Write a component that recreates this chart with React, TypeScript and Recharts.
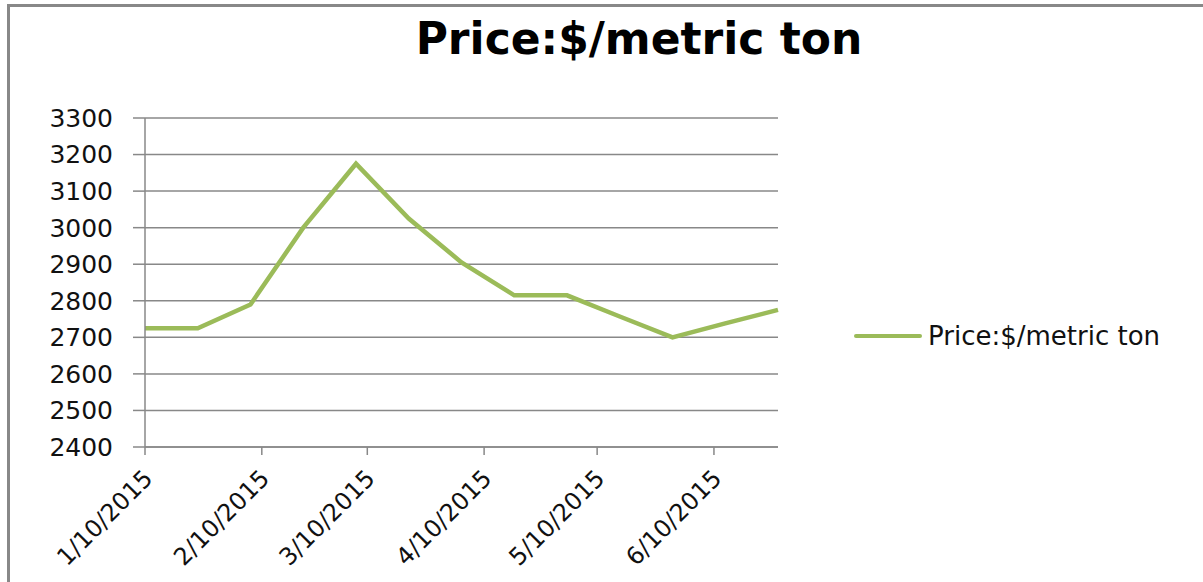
import React from 'react'
import { LineChart, Line, XAxis, YAxis, CartesianGrid, Legend } from 'recharts'

const dates = [
    '2015-01-10', '2015-01-24', '2015-02-07', '2015-02-21', '2015-03-07',
    '2015-03-21', '2015-04-04', '2015-04-18', '2015-05-02', '2015-05-16',
    '2015-05-30', '2015-06-13', '2015-06-27',
]
const prices = [2725, 2725, 2790, 3000, 3175, 3025, 2905, 2815, 2815, 2757, 2700, 2738, 2775]

const tickDates = ['2015-01-10', '2015-02-10', '2015-03-10', '2015-04-10', '2015-05-10', '2015-06-10']
const tickLabels = ['1/10/2015', '2/10/2015', '3/10/2015', '4/10/2015', '5/10/2015', '6/10/2015']
const yTicks = [2400, 2500, 2600, 2700, 2800, 2900, 3000, 3100, 3200, 3300]

const seriesName = 'Price:$/metric ton'

const DAY = 24 * 3600 * 1000
const start = Date.parse(dates[0])
const toDay = (d: string) => Math.round((Date.parse(d) - start) / DAY)

const data = dates.map((d, i) => ({ day: toDay(d), price: prices[i] }))
const xTicks = tickDates.map(toDay)

const FONT = '"DejaVu Sans", sans-serif'
const GREEN = '#9bbb59'
const GRAY = '#888888'

function DateTick(props: any) {
    const { x, y, payload } = props
    const i = xTicks.indexOf(payload.value)
    const ax = x + 9
    const ay = y + 25
    return (
        <text
            x={ax}
            y={ay}
            transform={`rotate(-45 ${ax} ${ay})`}
            textAnchor="end"
            fontFamily={FONT}
            fontSize={24}
            fill="#111"
        >
            {i >= 0 ? tickLabels[i] : ''}
        </text>
    )
}

function LegendBox() {
    return (
        <div style={{ display: 'flex', alignItems: 'center', fontFamily: FONT, fontSize: 26, color: '#111' }}>
            <span style={{ display: 'inline-block', width: 68, height: 4, background: GREEN, borderRadius: 2, marginRight: 6 }} />
            <span>{seriesName}</span>
        </div>
    )
}

export default function App() {
    return (
        <div style={{ position: 'absolute', left: 0, top: 0, width: 1203, height: 582, background: '#fff', overflow: 'hidden' }}>
            {/* chart area frame, only top/left edges visible */}
            <div style={{ position: 'absolute', left: 7, top: 4, width: 1300, height: 700, borderLeft: `3px solid ${GRAY}`, borderTop: `3px solid ${GRAY}` }} />

            <div style={{ position: 'absolute', left: 0, top: 13, width: 1278, textAlign: 'center', fontFamily: FONT, fontWeight: 'bold', fontSize: 44, color: '#000' }}>
                {seriesName}
            </div>

            <div style={{ position: 'absolute', left: 0, top: 0 }}>
                <LineChart width={1203} height={582} data={data} margin={{ top: 118, right: 425, bottom: 0, left: 0 }}>
                    <CartesianGrid vertical={false} stroke={GRAY} strokeWidth={1.5} />
                    <XAxis
                        dataKey="day"
                        type="number"
                        domain={[0, data[data.length - 1].day]}
                        ticks={xTicks}
                        interval={0}
                        height={135}
                        tickSize={8}
                        tickMargin={0}
                        stroke={GRAY}
                        strokeWidth={1.5}
                        tick={<DateTick />}
                    />
                    <YAxis
                        domain={[2400, 3300]}
                        ticks={yTicks}
                        interval={0}
                        width={145}
                        tickSize={12}
                        tickMargin={20}
                        stroke={GRAY}
                        strokeWidth={1.5}
                        tick={{ fontFamily: FONT, fontSize: 25, fill: '#111' }}
                    />
                    <Legend
                        layout="vertical"
                        align="center"
                        verticalAlign="middle"
                        content={<LegendBox />}
                        wrapperStyle={{ position: 'absolute', left: 854, top: 321, width: 345 }}
                    />
                    <Line
                        type="linear"
                        dataKey="price"
                        name={seriesName}
                        stroke={GREEN}
                        strokeWidth={4.5}
                        dot={false}
                        isAnimationActive={false}
                    />
                </LineChart>
            </div>
        </div>
    )
}
